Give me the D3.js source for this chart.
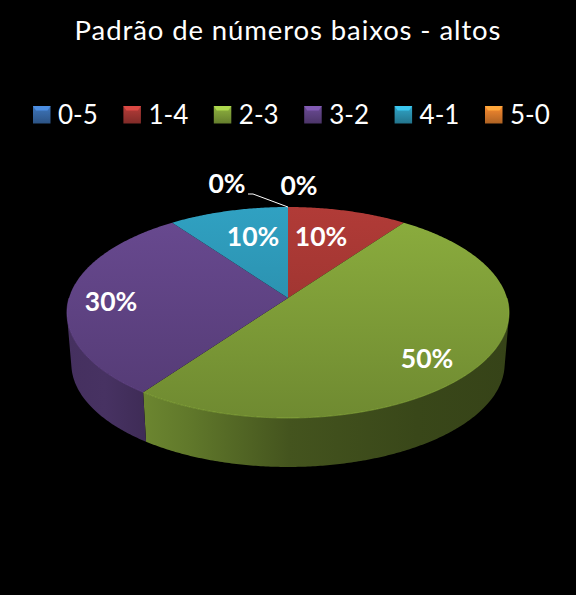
<!DOCTYPE html>
<html><head><meta charset="utf-8">
<script src="https://cdn.jsdelivr.net/npm/d3@7/dist/d3.min.js"></script>
<style>html,body{margin:0;padding:0;background:#000}svg{display:block}text{font-family:Lato,Carlito,sans-serif;fill:#fff}</style>
</head><body><svg id="c" width="576" height="595"></svg>
<script>
const title = "Padrão de números baixos - altos";
const categories = ["0-5","1-4","2-3","3-2","4-1","5-0"];
const values = [0,10,50,30,10,0];
const labels = ["0%","10%","50%","30%","10%","0%"];
const colors = ["#3b6fb0","#ab3935","#87a83c","#65478c","#2e9bbb","#e8822e"];

const W=576,H=595;
const svg=d3.select("#c");
svg.append("rect").attr("width",W).attr("height",H).attr("fill","#000");
const defs=svg.append("defs");

const pie=d3.pie().value(d=>d).sort(null)(values);
const disc={cx:288,cy:298,A:219,B:103.5,k:0.1376};
const base={cx:288,cy:349.4,A:214.6,B:101.4,k:0.1376};
function proj(p,a,f=1){const u=Math.sin(a)*f,v=Math.cos(a)*f,s=1/(1+p.k*v);return [p.cx+p.A*u*s,p.cy-p.B*v*s];}
function angles(a0,a1){const n=Math.max(2,Math.ceil((a1-a0)/0.01));return d3.range(n+1).map(i=>a0+(a1-a0)*i/n);}
function arcPts(p,a0,a1){return angles(a0,a1).map(a=>proj(p,a));}
function frontFacing(a){
  const e=1e-3,t0=proj(disc,a-e),t1=proj(disc,a+e),q=proj(disc,a),r=proj(base,a);
  return (t1[0]-t0[0])*(r[1]-q[1])-(t1[1]-t0[1])*(r[0]-q[0])<0;
}
const line=d3.line();
const shade=(c,f)=>d3.rgb(c.r*f,c.g*f,c.b*f);

// side walls: only the front-facing stretch of each slice's rim
const sides=svg.append("g");
pie.forEach((d,i)=>{
  if(d.endAngle-d.startAngle<=0)return;
  const vis=angles(d.startAngle,d.endAngle).filter(frontFacing);
  if(vis.length<2)return;
  const id="side"+i,c=d3.rgb(colors[i]);
  const t0=vis.map(a=>proj(disc,a)),b0=vis.map(a=>proj(base,a));
  const xs=t0.map(q=>q[0]);
  const g=defs.append("linearGradient").attr("id",id).attr("gradientUnits","userSpaceOnUse")
    .attr("x1",d3.min(xs)).attr("x2",d3.max(xs)).attr("y1",0).attr("y2",0);
  const stops=i===2?[[0,.8],[.12,.72],[.4,.5],[.75,.42],[1,.4]]:[[0,.68],[.5,.7],[1,.62]];
  stops.forEach(s=>g.append("stop").attr("offset",s[0]).attr("stop-color",shade(c,s[1])));
  sides.append("path").attr("d",line(t0.concat(b0.reverse()))+"Z").attr("fill",`url(#${id})`);
});

// top faces
const tops=svg.append("g");
pie.forEach((d,i)=>{
  if(d.endAngle-d.startAngle<=0)return;
  const id="top"+i,c=d3.rgb(colors[i]);
  const g=defs.append("linearGradient").attr("id",id).attr("gradientUnits","userSpaceOnUse")
    .attr("x1",0).attr("x2",0).attr("y1",207).attr("y2",418);
  g.append("stop").attr("offset",0).attr("stop-color",c.copy().brighter(.1));
  g.append("stop").attr("offset",1).attr("stop-color",shade(c,.82));
  const pts=[[disc.cx,disc.cy]].concat(arcPts(disc,d.startAngle,d.endAngle));
  tops.append("path").attr("d",line(pts)+"Z").attr("fill",`url(#${id})`);
  const a0=Math.max(d.startAngle,Math.PI*.5),a1=Math.min(d.endAngle,Math.PI*1.5);
  if(a1>a0){
    tops.append("path").attr("d",line(arcPts(disc,a0,a1))).attr("fill","none")
      .attr("stroke",c.copy().brighter(.5)).attr("stroke-opacity",.45).attr("stroke-width",1);
  }
});

// leader line for the first hidden zero label
const leaderPts=[proj(disc,0),[253,194],[248,194]];
svg.append("path").attr("d",line(leaderPts)).attr("fill","none").attr("stroke","#fff").attr("stroke-width",1);

// data labels
const labelAnchors=[[299,185],[321,236],[427,358],[111,301],[253,236],[227,183]];
svg.append("g").selectAll("text").data(labels).join("text")
  .attr("x",(d,i)=>labelAnchors[i][0]).attr("y",(d,i)=>labelAnchors[i][1])
  .attr("text-anchor","middle").attr("dominant-baseline","central")
  .attr("font-size",26.5).attr("font-weight",700).text(d=>d);

// title
svg.append("text").attr("x",288).attr("y",39.5).attr("text-anchor","middle")
  .attr("font-size",27.5).attr("letter-spacing",.9).text(title);

// legend
const lx=d3.scalePoint().domain(categories).range([33,485]);
const leg=svg.append("g").selectAll("g").data(categories).join("g").attr("transform",d=>`translate(${lx(d)},106)`);
categories.forEach((cat,i)=>{
  const g=defs.append("linearGradient").attr("id","sw"+i).attr("x1",0).attr("x2",0).attr("y1",0).attr("y2",1);
  const c=d3.rgb(colors[i]);
  g.append("stop").attr("offset",0).attr("stop-color",c.copy().brighter(.2));
  g.append("stop").attr("offset",1).attr("stop-color",shade(c,.75));
});
leg.append("rect").attr("width",17.5).attr("height",17.5).attr("fill",(d,i)=>`url(#sw${i})`);
leg.append("path").attr("d",line([[0,0],[17.5,0],[14.5,4.5],[3,4.5]])+"Z").attr("fill",(d,i)=>d3.rgb(colors[i]).brighter(.7));
leg.append("text").attr("x",25).attr("y",18).attr("font-size",26).text(d=>d);
</script></body></html>
